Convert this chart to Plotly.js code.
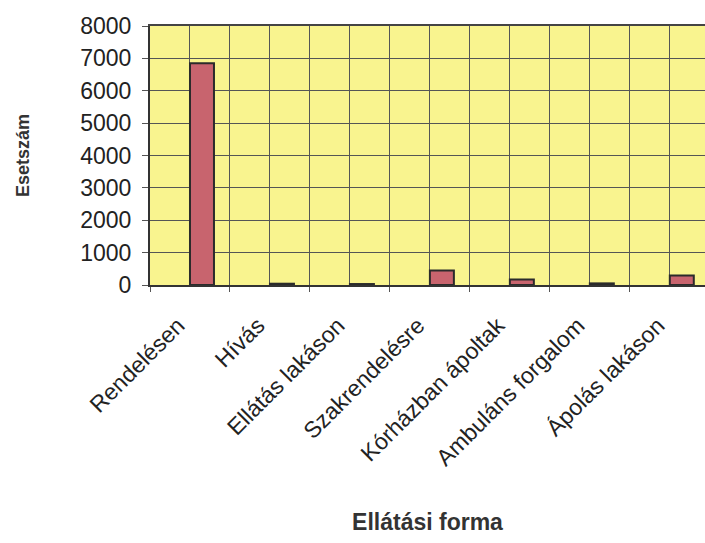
<!DOCTYPE html>
<html>
<head>
<meta charset="utf-8">
<script src="https://cdn.plot.ly/plotly-3.0.1.min.js"></script>
<style>html,body{margin:0;padding:0;background:#fff;}#chart{width:705px;height:543px;}</style>
</head>
<body>
<div id="chart"></div>
<script>
const categories = ["Rendelésen", "Hívás", "Ellátás lakáson", "Szakrendelésre", "Kórházban ápoltak", "Ambuláns forgalom", "Ápolás lakáson"];
const values = [6850, 40, 30, 450, 170, 50, 290];
const yTicks = [0, 1000, 2000, 3000, 4000, 5000, 6000, 7000, 8000];
const xTitle = "Ellátási forma";
const yTitle = "Esetszám";

const font = "Liberation Sans, Arial, sans-serif";
const trace = {
  type: "bar",
  x: categories,
  y: values,
  width: 0.3,
  offset: 0,
  marker: {color: "#C8646E", line: {color: "#2b2b2b", width: 2}},
  hoverinfo: "x+y"
};
const layout = {
  width: 705, height: 543,
  margin: {l: 150, r: 0, t: 26, b: 258},
  paper_bgcolor: "#ffffff",
  plot_bgcolor: "#F9F48F",
  showlegend: false,
  bargap: 0,
  xaxis: {
    type: "category",
    range: [-0.5, 6.44],
    tickson: "boundaries",
    ticks: "outside", ticklen: 5, tickcolor: "#555",
    showgrid: true, gridcolor: "#555", gridwidth: 1,
    showline: true, linecolor: "#333", linewidth: 2,
    tickangle: -45,
    ticklabelstandoff: 16,
    ticklabelshift: -12,
    tickfont: {family: font, size: 23, color: "#222"},
    title: {text: xTitle, font: {family: font, size: 23, color: "#333", weight: "bold"}, standoff: 44},
    automargin: false
  },
  xaxis2: {
    overlaying: "x", side: "top", type: "linear",
    range: [-0.5, 6.44],
    tickvals: [0, 1, 2, 3, 4, 5, 6],
    showticklabels: false, ticks: "",
    showgrid: true, gridcolor: "#555", gridwidth: 1,
    showline: true, linecolor: "#444", linewidth: 2,
    zeroline: false
  },
  yaxis: {
    range: [0, 8000],
    tickvals: yTicks,
    ticks: "outside", ticklen: 6, tickcolor: "#555",
    showgrid: true, gridcolor: "#555", gridwidth: 1,
    showline: true, linecolor: "#333", linewidth: 2,
    zeroline: false,
    ticklabelstandoff: 6,
    tickfont: {family: font, size: 23, color: "#222"},
    title: {text: yTitle, font: {family: font, size: 18, color: "#333", weight: "bold"}, standoff: 46},
    automargin: false
  }
};
const t2 = {type: "scatter", x: [], y: [], xaxis: "x2", yaxis: "y", hoverinfo: "skip", showlegend: false};
Plotly.newPlot("chart", [trace, t2], layout, {staticPlot: true, displayModeBar: false});
</script>
</body>
</html>
